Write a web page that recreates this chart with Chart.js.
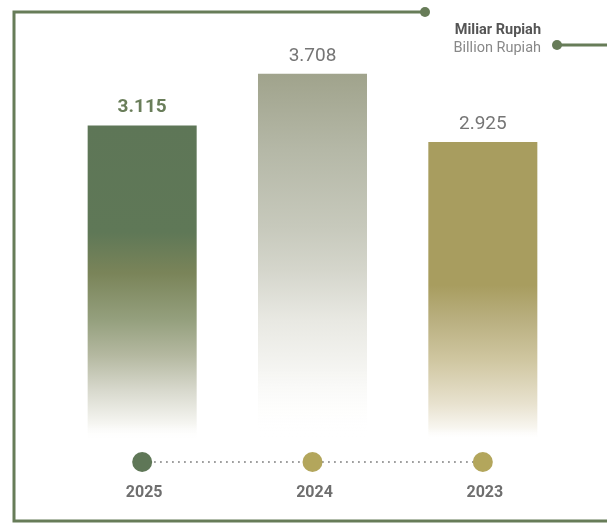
<!DOCTYPE html>
<html>
<head>
<meta charset="utf-8">
<script src="https://cdn.jsdelivr.net/npm/chart.js@4"></script>
<style>
  body { margin: 0; background: #fff; }
  canvas { display: block; }
</style>
</head>
<body>
<canvas id="myChart" width="607" height="523"></canvas>
<script>
'use strict';

// data
var years = ['2025', '2024', '2023'];
var values = [3.115, 3.708, 2.925];
var valueLabels = ['3.115', '3.708', '2.925'];
var unitLabels = ['Miliar Rupiah', 'Billion Rupiah'];

// styles
var frameColor = '#677c58';
var dotColors = ['#5f7757', '#b3a65c', '#b3a65c'];
var barStops = [
  [[0, '#5e7657'], [0.34, '#5f7857'], [0.47, '#7a8459'], [0.62, '#95a07e'], [0.73, '#b4b8a0'], [0.84, '#d7d8cc'], [0.95, '#f6f6f2'], [1, 'rgba(255,255,255,0)']],
  [[0, '#a0a38c'], [0.21, '#b5b8a7'], [0.42, '#c7c9bc'], [0.54, '#d5d6cc'], [0.67, '#e8e8e2'], [0.81, '#f5f5f2'], [1, 'rgba(255,255,255,0)']],
  [[0, '#a89d5f'], [0.48, '#a89d5f'], [0.59, '#b8ae7e'], [0.73, '#cfc6a0'], [0.88, '#e8e2cf'], [0.96, '#f8f6f0'], [1, 'rgba(255,255,255,0)']]
];
var yMin = -0.5;
var yMax = 4.2;

function barGradient(c) {
  var chart = c.chart;
  var area = chart.chartArea;
  var stops = barStops[c.dataIndex];
  if (!area || !chart.scales.y) {
    return stops[0][1];
  }
  var top = chart.scales.y.getPixelForValue(values[c.dataIndex]);
  var g = chart.ctx.createLinearGradient(0, top, 0, area.bottom);
  stops.forEach(function (s) {
    g.addColorStop(s[0], s[1]);
  });
  return g;
}

// frame, unit text, value labels, timeline dots and year labels
var decorPlugin = {
  id: 'decor',
  afterDraw: function (chart) {
    var ctx = chart.ctx;
    var meta = chart.getDatasetMeta(0);
    var xs = chart.scales.x;
    ctx.save();

    // frame lines
    ctx.strokeStyle = frameColor;
    ctx.lineWidth = 3;
    ctx.beginPath();
    ctx.moveTo(425, 12);
    ctx.lineTo(14, 12);
    ctx.lineTo(14, 521);
    ctx.lineTo(607, 521);
    ctx.stroke();
    ctx.beginPath();
    ctx.moveTo(557, 45);
    ctx.lineTo(607, 45);
    ctx.stroke();
    ctx.fillStyle = frameColor;
    [[425, 12], [557, 45]].forEach(function (p) {
      ctx.beginPath();
      ctx.arc(p[0], p[1], 5, 0, Math.PI * 2);
      ctx.fill();
    });

    // unit text
    ctx.textAlign = 'right';
    ctx.textBaseline = 'middle';
    ctx.font = 'bold 14.5px Roboto';
    ctx.fillStyle = '#555555';
    ctx.fillText(unitLabels[0], 541, 30);
    ctx.font = '14.5px Roboto';
    ctx.fillStyle = '#888888';
    ctx.fillText(unitLabels[1], 541, 48);

    // value labels
    ctx.textAlign = 'center';
    meta.data.forEach(function (bar, i) {
      if (i === 0) {
        ctx.font = 'bold 19px Roboto';
        ctx.fillStyle = '#6a7e5a';
      } else {
        ctx.font = '19px Roboto';
        ctx.fillStyle = '#757575';
      }
      ctx.fillText(valueLabels[i], bar.x, bar.y - 18);
    });

    // timeline
    var dotY = 462;
    var first = xs.getPixelForValue(0);
    var last = xs.getPixelForValue(years.length - 1);
    ctx.strokeStyle = '#666666';
    ctx.lineWidth = 1.5;
    ctx.setLineDash([1.5, 4.5]);
    ctx.beginPath();
    ctx.moveTo(first, dotY);
    ctx.lineTo(last, dotY);
    ctx.stroke();
    ctx.setLineDash([]);
    years.forEach(function (y, i) {
      var x = xs.getPixelForValue(i);
      ctx.fillStyle = dotColors[i];
      ctx.beginPath();
      ctx.arc(x, dotY, 10, 0, Math.PI * 2);
      ctx.fill();
      ctx.font = 'bold 16px Roboto';
      ctx.fillStyle = '#6e6e6e';
      ctx.fillText(y, x + 2, 493);
    });

    ctx.restore();
  }
};

var ctx = document.getElementById('myChart').getContext('2d');
var chart = new Chart(ctx, {
  type: 'bar',
  data: {
    labels: years,
    datasets: [{
      data: values,
      base: yMin,
      backgroundColor: barGradient,
      borderWidth: 0,
      barPercentage: 0.64,
      categoryPercentage: 1
    }]
  },
  options: {
    responsive: false,
    devicePixelRatio: 1,
    animation: false,
    layout: {
      padding: { left: 57, right: 39, top: 31, bottom: 83 }
    },
    plugins: {
      legend: { display: false },
      tooltip: { enabled: false }
    },
    scales: {
      x: {
        display: false
      },
      y: {
        display: false,
        min: yMin,
        max: yMax
      }
    }
  },
  plugins: [decorPlugin]
});
</script>
</body>
</html>
